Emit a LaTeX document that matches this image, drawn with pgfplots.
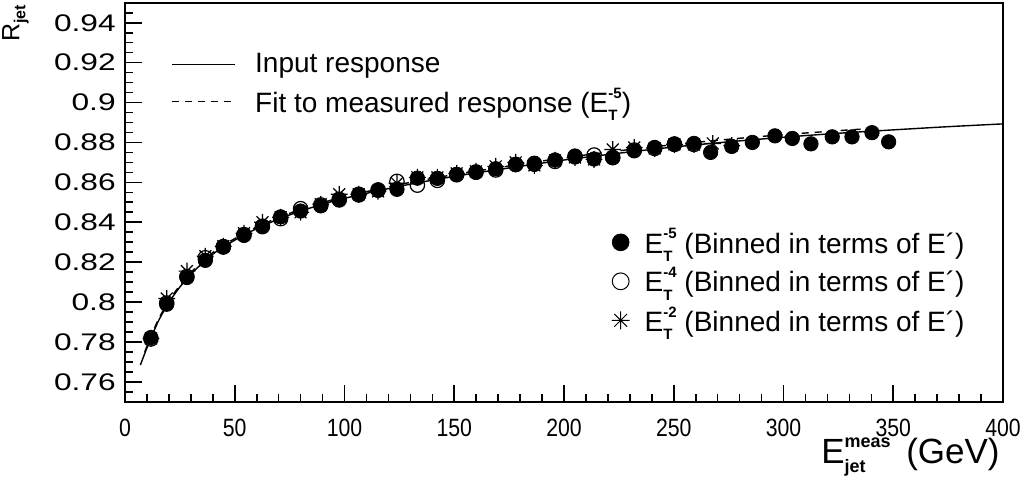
\documentclass[border=0pt]{standalone}
\usepackage{fontspec}
\setmainfont{Liberation Sans}
\usepackage{pgfplots}
\pgfplotsset{compat=1.18}
\pgfdeclareplotmark{rootstar}{%
  \pgfpathmoveto{\pgfqpoint{-\pgfplotmarksize}{0pt}}\pgfpathlineto{\pgfqpoint{\pgfplotmarksize}{0pt}}%
  \pgfpathmoveto{\pgfqpoint{0pt}{-\pgfplotmarksize}}\pgfpathlineto{\pgfqpoint{0pt}{\pgfplotmarksize}}%
  \pgfpathmoveto{\pgfqpoint{-0.707\pgfplotmarksize}{-0.707\pgfplotmarksize}}\pgfpathlineto{\pgfqpoint{0.707\pgfplotmarksize}{0.707\pgfplotmarksize}}%
  \pgfpathmoveto{\pgfqpoint{-0.707\pgfplotmarksize}{0.707\pgfplotmarksize}}\pgfpathlineto{\pgfqpoint{0.707\pgfplotmarksize}{-0.707\pgfplotmarksize}}%
  \pgfusepathqstroke}
\newcommand\ET[1]{E\rlap{\raisebox{-0.55ex}{\fontsize{7.5}{8}\selectfont\bfseries T}}\raisebox{0.95ex}{\fontsize{7.5}{8}\selectfont\bfseries -#1}}

\pgfplotstableread{
x y
11.8 0.7822
19.0 0.7989
28.2 0.8123
36.6 0.8209
44.8 0.8275
54.2 0.8334
62.6 0.8381
70.9 0.8427
80.0 0.8456
89.2 0.8482
97.6 0.8511
106.5 0.8536
115.3 0.8560
123.9 0.8565
133.2 0.8621
142.3 0.8620
151.1 0.8640
159.9 0.8650
168.9 0.8668
178.0 0.8688
186.5 0.8690
195.9 0.8712
205.0 0.8732
213.7 0.8717
222.2 0.8723
232.0 0.8758
241.3 0.8775
250.3 0.8793
259.2 0.8795
266.8 0.8750
276.4 0.8780
285.8 0.8800
296.1 0.8833
304.0 0.8820
312.5 0.8793
322.2 0.8828
331.2 0.8828
340.3 0.8849
347.9 0.8803
}\filled

\pgfplotstableread{
x y
11.8 0.7815
19.0 0.7995
28.2 0.8128
36.6 0.8222
44.8 0.8278
54.2 0.8338
62.6 0.8378
70.9 0.8418
80.0 0.8468
89.2 0.8487
97.6 0.8515
106.5 0.8540
115.3 0.8562
123.9 0.8605
133.2 0.8586
142.3 0.8610
151.1 0.8638
159.9 0.8652
168.9 0.8662
178.0 0.8690
186.5 0.8695
195.9 0.8705
205.0 0.8728
213.7 0.8737
222.2 0.8725
232.0 0.8762
241.3 0.8770
250.3 0.8790
259.2 0.8790
}\opencirc

\pgfplotstableread{
x y
11.8 0.7818
19.0 0.8018
28.2 0.8155
36.6 0.8230
44.8 0.8280
54.2 0.8345
62.6 0.8400
70.9 0.8425
80.0 0.8450
89.2 0.8490
97.6 0.8540
106.5 0.8540
115.3 0.8555
123.9 0.8595
133.2 0.8625
142.3 0.8625
151.1 0.8645
159.9 0.8655
168.9 0.8680
178.0 0.8700
186.5 0.8685
195.9 0.8710
205.0 0.8725
213.7 0.8715
222.2 0.8765
232.0 0.8775
241.3 0.8770
250.3 0.8790
259.2 0.8790
267.8 0.8795
276.4 0.8785
}\stars

\pgfplotstableread{
x y
7 0.7684
10 0.7770
15 0.7900
20 0.7998
25 0.8075
30 0.8140
40 0.8240
50 0.8310
60 0.8368
70 0.8416
80 0.8456
90 0.8490
100 0.8520
125 0.8580
150 0.8630
175 0.8672
200 0.8712
225 0.8746
250 0.8777
275 0.8803
300 0.8826
325 0.8846
350 0.8863
375 0.8879
400 0.8893
}\inputresp

\pgfplotstableread{
x y
9 0.7750
10 0.7778
15 0.7908
20 0.8006
25 0.8083
30 0.8148
40 0.8248
50 0.8318
60 0.8376
70 0.8424
80 0.8464
90 0.8498
100 0.8528
125 0.8589
150 0.8639
175 0.8682
200 0.8723
225 0.8758
250 0.8789
275 0.8816
300 0.8839
325 0.8859
340 0.8870
}\fitresp

\begin{document}
\begin{tikzpicture}
\begin{axis}[
  name=main,
  scale only axis, width=439pt, height=199.5pt,
  xmin=0, xmax=400, ymin=0.75, ymax=0.95,
  xtick={0,50,100,150,200,250,300,350,400},
  minor xtick={0,10,...,400},
  ytick={0.76,0.78,0.80,0.82,0.84,0.86,0.88,0.90,0.92,0.94},
  minor ytick={0.75,0.755,0.76,0.765,0.77,0.775,0.78,0.785,0.79,0.795,0.80,0.805,0.81,0.815,0.82,0.825,0.83,0.835,0.84,0.845,0.85,0.855,0.86,0.865,0.87,0.875,0.88,0.885,0.89,0.895,0.90,0.905,0.91,0.915,0.92,0.925,0.93,0.935,0.94,0.945},
  xtick pos=bottom, ytick pos=left, tick align=inside,
  major tick length=8.5pt, minor tick length=4pt,
  axis line style={line width=1pt},
  every tick/.style={black, line width=0.8pt},
  xticklabel style={font=\fontsize{12.5}{14}\selectfont, xscale=0.85, yshift=-5pt},
  yticklabel style={font=\fontsize{12}{14}\selectfont, xscale=1.32,
    /pgf/number format/fixed, /pgf/number format/precision=2},
  /pgf/number format/assume math mode=true,
  scaled y ticks=false,
  clip mode=individual,
  legend style={at={(0.547,0.455)}, anchor=north west, draw=none, fill=none,
    font=\fontsize{14}{16}\selectfont, row sep=1.8pt},
  legend cell align=left,
]
\addplot[black, line width=0.7pt, smooth, forget plot] table {\inputresp};
\addplot[black, line width=0.7pt, smooth, dash pattern=on 3.5pt off 3pt, forget plot] table {\fitresp};
\addplot[only marks, mark=o, mark size=3.6pt, black, line width=0.6pt, forget plot] table {\opencirc};
\addplot[only marks, mark=rootstar, mark size=4.2pt, black, line width=0.6pt, forget plot] table {\stars};
\addplot[only marks, mark=*, mark size=3.6pt, black, forget plot] table {\filled};
\addlegendimage{only marks, mark=*, mark size=4.2pt, black}
\addlegendentry{\hspace{5.5pt}\ET{5} (Binned in terms of E´)}
\addlegendimage{only marks, mark=o, mark size=4.2pt, black, line width=0.5pt}
\addlegendentry{\hspace{5.5pt}\ET{4} (Binned in terms of E´)}
\addlegendimage{only marks, mark=rootstar, mark size=4.5pt, black, line width=0.5pt}
\addlegendentry{\hspace{5.5pt}\ET{2} (Binned in terms of E´)}
\path (rel axis cs:0,1) ++(-48pt,-1pt) node[rotate=90, anchor=south east, inner sep=0pt, font=\fontsize{12.5}{15}\selectfont] {R\raisebox{-0.45ex}{\fontsize{8}{9}\selectfont\bfseries jet}};
\path (rel axis cs:1,0) ++(-1.5pt,-37.5pt) node[anchor=south east, inner sep=0pt, font=\fontsize{17.5}{20}\selectfont] {E\rlap{\raisebox{-0.5ex}{\fontsize{9}{10}\selectfont\bfseries jet}}\raisebox{0.85ex}{\fontsize{9}{10}\selectfont\bfseries meas}\, (GeV)};
\end{axis}
\begin{axis}[
  scale only axis, width=439pt, height=199.5pt,
  xmin=0, xmax=400, ymin=0.75, ymax=0.95,
  hide axis,
  legend style={at={(0.046,0.895)}, anchor=north west, draw=none, fill=none,
    font=\fontsize{14}{16}\selectfont, row sep=2.2pt},
  legend cell align=left,
  legend image code/.code={\draw[#1] (0pt,0pt) -- (31.5pt,0pt);},
]
\addlegendimage{black, line width=0.7pt}
\addlegendentry{\hspace{7.5pt}Input response}
\addlegendimage{black, line width=0.7pt, dash pattern=on 3.5pt off 3pt}
\addlegendentry{\hspace{7.5pt}Fit to measured response (\ET{5})}
\end{axis}
\pgfresetboundingbox
\path ([shift={(-62.5pt,-38.7pt)}]main.south west) rectangle ([shift={(13pt,1.4pt)}]main.north east);
\end{tikzpicture}
\end{document}
